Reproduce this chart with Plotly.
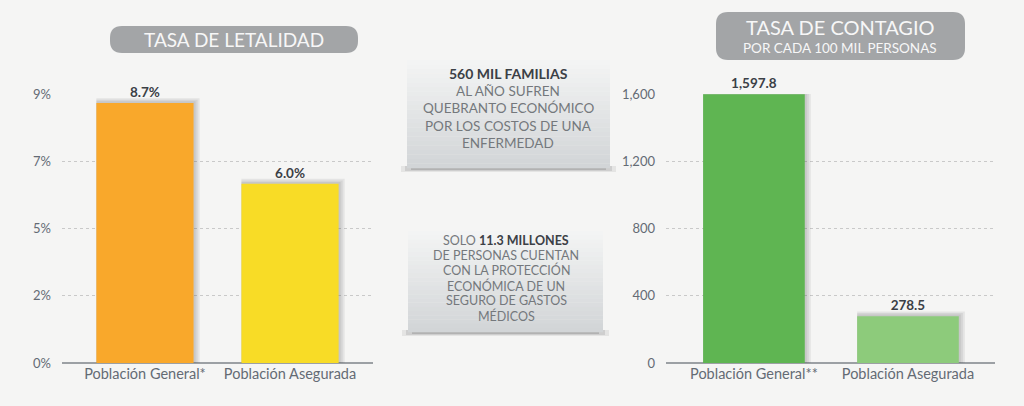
import plotly.graph_objects as go

# ---- data ----
let_categories = ["Población General*", "Población Asegurada"]
let_values = [8.7, 6.0]
let_tickvals = [0, 2.25, 4.5, 6.75, 9]
let_ticktext = ["0%", "2%", "5%", "7%", "9%"]

con_categories = ["Población General**", "Población Asegurada"]
con_values = [1597.8, 278.5]
con_tickvals = [0, 400, 800, 1200, 1600]

let_colors = ["#f9a82b", "#f8dc26"]
con_colors = ["#5fb552", "#8dcb7b"]

W, H = 1024, 406
BG = "#f5f5f4"
FONT = "Lato"


def px(x):
    return x / W


def py(y):
    return 1 - y / H


def rounded_rect(x0, y0, x1, y1, r):
    rx, ry = r / W, r / H
    X0, X1 = px(x0), px(x1)
    Y0, Y1 = py(y0), py(y1)  # Y0 top, Y1 bottom
    return (f"M {X0+rx},{Y0} L {X1-rx},{Y0} Q {X1},{Y0} {X1},{Y0-ry} "
            f"L {X1},{Y1+ry} Q {X1},{Y1} {X1-rx},{Y1} L {X0+rx},{Y1} "
            f"Q {X0},{Y1} {X0},{Y1+ry} L {X0},{Y0-ry} Q {X0},{Y0} {X0+rx},{Y0} Z")


fig = go.Figure()

# soft layered shadows behind bars (extend a few pixels right and up)
panels = [
    (let_categories, let_values, 0.67, "x", "y", 1 / 145.0, 9 / 269.0),
    (con_categories, con_values, 0.66, "x2", "y2", 1 / 154.0, 1600 / 269.0),
]
for cats, vals, w, xa, ya, xu, yu in panels:
    for k in (6, 4, 2):
        fig.add_trace(go.Bar(
            x=cats, y=[v + k * 0.8 * yu for v in vals],
            marker=dict(color="rgba(70,70,70,0.09)", line=dict(width=0)),
            width=w + k * xu, offset=-w / 2, xaxis=xa, yaxis=ya,
            showlegend=False, hoverinfo="skip",
        ))

fig.add_trace(go.Bar(
    x=let_categories, y=let_values, marker=dict(color=let_colors, line=dict(width=0)),
    width=0.67, offset=-0.335,
    text=[f"{v:.1f}%" for v in let_values], textposition="outside",
    textfont=dict(family=FONT, size=13.5, color="#3b4046", weight="bold"),
    cliponaxis=False, xaxis="x", yaxis="y", showlegend=False, hoverinfo="skip",
))
fig.add_trace(go.Bar(
    x=con_categories, y=con_values, marker=dict(color=con_colors, line=dict(width=0)),
    width=0.66, offset=-0.33,
    text=[f"{v:,.1f}" for v in con_values], textposition="outside",
    textfont=dict(family=FONT, size=13.5, color="#3b4046", weight="bold"),
    cliponaxis=False, xaxis="x2", yaxis="y2", showlegend=False, hoverinfo="skip",
))

ydom = [py(363), py(94)]
axis_common = dict(
    showgrid=True, gridcolor="#c9c9c9", griddash="dot", gridwidth=1,
    zeroline=True, zerolinecolor="#9ca0a4", zerolinewidth=2,
    tickfont=dict(family=FONT, size=13, color="#646b74"),
    ticklabelstandoff=10, showline=False, fixedrange=True, automargin=False,
)
xaxis_common = dict(
    showgrid=False, zeroline=False, showline=False, ticks="",
    tickfont=dict(family=FONT, size=14.5, color="#646b74"), fixedrange=True,
    automargin=False,
)

fig.update_layout(
    width=W, height=H, autosize=False,
    margin=dict(l=0, r=0, t=0, b=0, pad=0),
    paper_bgcolor=BG, plot_bgcolor=BG,
    barmode="overlay",
    xaxis=dict(domain=[px(62), px(373)], range=[-0.572, 1.572], anchor="y", **xaxis_common),
    yaxis=dict(domain=ydom, range=[0, 9], anchor="x", tickvals=let_tickvals,
               ticktext=let_ticktext, **axis_common),
    xaxis2=dict(domain=[px(666), px(995)], range=[-0.571, 1.565], anchor="y2", **xaxis_common),
    yaxis2=dict(domain=ydom, range=[0, 1600], anchor="x2", tickvals=con_tickvals,
                tickformat=",", **axis_common),
)

shapes = []
shapes.append(dict(type="path", xref="paper", yref="paper",
                   path=rounded_rect(110, 26, 358, 53, 12),
                   fillcolor="#a3a5a7", line=dict(width=0), layer="below"))
shapes.append(dict(type="path", xref="paper", yref="paper",
                   path=rounded_rect(716, 12, 965, 60, 12),
                   fillcolor="#a3a5a7", line=dict(width=0), layer="below"))


def grad_box(x0, y0, x1, y1, top=(243, 244, 244), bot=(210, 213, 215), n=24):
    for dx, dy, op in [(-6, 4, 0.10), (-2, 3, 0.14), (4, 2, 0.22)]:
        shapes.append(dict(type="rect", xref="paper", yref="paper",
                           x0=px(x0 + dx), x1=px(x1 - dx), y0=py(y1 + dy), y1=py(y1 - 2),
                           fillcolor=f"rgba(80,80,80,{op})", line=dict(width=0), layer="below"))
    h = (y1 - y0) / n
    for i in range(n):
        t = i / (n - 1)
        c = tuple(round(top[k] + (bot[k] - top[k]) * t) for k in range(3))
        shapes.append(dict(type="rect", xref="paper", yref="paper",
                           x0=px(x0), x1=px(x1), y0=py(y0 + (i + 1) * h + 0.3), y1=py(y0 + i * h),
                           fillcolor=f"rgb{c}", line=dict(width=0), layer="below"))


grad_box(407, 60, 610, 168)
grad_box(408, 231, 603, 332)
fig.update_layout(shapes=shapes)

ann = []


def text(x, y, t, size, color):
    ann.append(dict(x=px(x), y=py(y), xref="paper", yref="paper", text=t,
                    xanchor="center", yanchor="middle", showarrow=False,
                    font=dict(family=FONT, size=size, color=color)))


text(234, 40, "TASA DE LETALIDAD", 19, "#f7f7f7")
text(840, 27, "TASA DE CONTAGIO", 20, "#f7f7f7")
text(840, 48, "POR CADA 100 MIL PERSONAS", 13.5, "#f7f7f7")

box1 = ["<b>560 MIL FAMILIAS</b>", "AL AÑO SUFREN", "QUEBRANTO ECONÓMICO",
        "POR LOS COSTOS DE UNA", "ENFERMEDAD"]
for i, t in enumerate(box1):
    text(508, 73 + i * 17.6, t, 14 if i == 0 else 13.5, "#3b4046" if i == 0 else "#74787c")

box2 = ["SOLO <b><span style='color:#3b4046'>11.3 MILLONES</span></b>", "DE PERSONAS CUENTAN",
        "CON LA PROTECCIÓN", "ECONÓMICA DE UN", "SEGURO DE GASTOS", "MÉDICOS"]
for i, t in enumerate(box2):
    text(506, 240 + i * 15.2, t, 12.5, "#74787c")

fig.update_layout(annotations=ann)

fig.write_html(
    "out.html",
    config={"displayModeBar": False},
    post_script="document.body.style.margin='0';document.body.style.background='#f5f5f4';",
)
